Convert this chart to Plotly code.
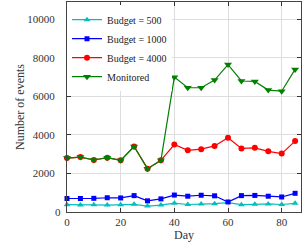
import plotly.graph_objects as go

days = [0, 5, 10, 15, 20, 25, 30, 35, 40, 45, 50, 55, 60, 65, 70, 75, 80, 85]
budget_500 = [380, 360, 370, 360, 370, 400, 310, 360, 460, 390, 410, 430, 490, 380, 400, 420, 390, 450]
budget_1000 = [700, 700, 710, 740, 730, 850, 580, 680, 880, 820, 870, 840, 520, 850, 860, 820, 780, 970]
budget_4000 = [2800, 2850, 2700, 2820, 2680, 3400, 2250, 2680, 3500, 3200, 3260, 3430, 3850, 3300, 3330, 3150, 3030, 3680]
monitored = [2800, 2850, 2700, 2820, 2680, 3400, 2250, 2680, 7000, 6450, 6450, 6850, 7650, 6800, 6780, 6330, 6270, 7400]

series = [
    ("Budget = 500", budget_500, "#00BFBF", "triangle-up", 6),
    ("Budget = 1000", budget_1000, "#0000FF", "square", 5),
    ("Budget = 4000", budget_4000, "#FF0000", "circle", 6),
    ("Monitored", monitored, "#008000", "triangle-down", 7),
]

y_ticks = [2000, 4000, 6000, 8000, 10000]
y_labels = ["2000", "4000", "6000", "8000", "10000"]
x_ticks = [0, 20, 40, 60, 80]

fig = go.Figure()
for name, vals, color, sym, sz in series:
    fig.add_trace(go.Scatter(
        x=days, y=vals, name=name, mode="lines+markers",
        line=dict(color=color, width=1.2),
        marker=dict(symbol=sym, size=sz, color=color),
        cliponaxis=False,
    ))

font = dict(family="Liberation Serif, Times New Roman, serif", size=11, color="#333")

fig.update_layout(
    width=308, height=248,
    margin=dict(l=67, r=7, t=2, b=36),
    paper_bgcolor="white", plot_bgcolor="white",
    font=font,
    showlegend=True,
    legend=dict(x=0.0, y=0.985, xanchor="left", yanchor="top",
                bgcolor="white", borderwidth=0, font=dict(size=10, color="#222"),
                tracegroupgap=0, itemwidth=30, traceorder="normal"),
    xaxis=dict(
        range=[0, 87.2], tickvals=x_ticks, ticks="inside", ticklen=4,
        tickcolor="#333", showline=True, linecolor="#444", linewidth=1,
        mirror="ticks", showgrid=True, gridcolor="#dddddd", gridwidth=1,
        zeroline=False, automargin=False,
        title=dict(text="Day", standoff=2, font=dict(size=12)),
    ),
    yaxis=dict(
        range=[0, 10900], tickvals=y_ticks, ticktext=y_labels, ticks="inside", ticklen=4,
        tickcolor="#333", showline=True, linecolor="#444", linewidth=1,
        mirror="ticks", showgrid=True, gridcolor="#dddddd", gridwidth=1,
        zeroline=False, ticklabelstandoff=9, automargin=False,
        title=dict(text="Number of events", standoff=0, font=dict(size=12)),
    ),
    annotations=[dict(x=0, y=0, xref="paper", yref="y", text="0", showarrow=False,
                      xanchor="right", yanchor="middle", xshift=-4,
                      font=dict(size=11, color="#333"))],
)

fig.write_html("out.html", config={"displayModeBar": False},
               post_script="document.body.style.margin='0';")
